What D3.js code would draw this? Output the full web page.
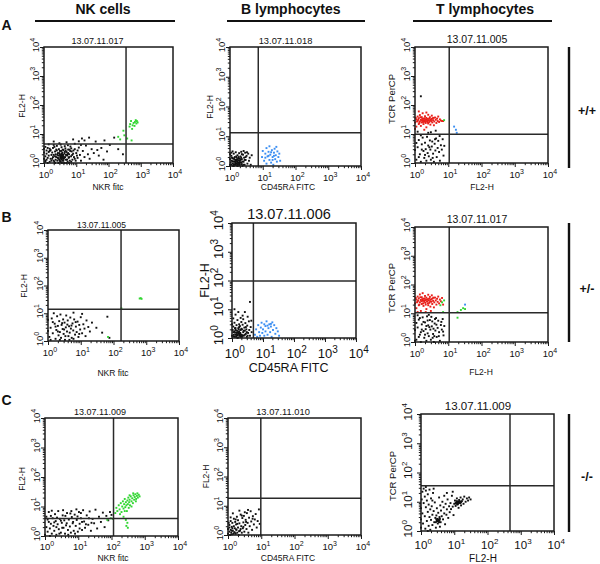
<!DOCTYPE html>
<html><head><meta charset="utf-8">
<script src="https://cdn.jsdelivr.net/npm/d3@7"></script>
<style>body{margin:0;background:#fff}svg{display:block}text{font-family:"Liberation Sans",Arial,Helvetica,sans-serif;fill:#111}</style>
</head><body><svg id="c" width="600" height="564"></svg>
<script>
// ---------------- DATA ----------------
const columnTitles = ["NK cells", "B lymphocytes", "T lymphocytes"];
const rowLetters = ["A", "B", "C"];
const genotypes = ["+/+", "+/-", "-/-"];
const sampleIds = [
  ["13.07.11.017", "13.07.11.018", "13.07.11.005"],
  ["13.07.11.005", "13.07.11.006", "13.07.11.017"],
  ["13.07.11.009", "13.07.11.010", "13.07.11.009"]
];
const xAxisLabels = ["NKR fitc", "CD45RA FITC", "FL2-H"];
const yAxisLabels = ["FL2-H", "FL2-H", "TCR PerCP"];
const decadeTicks = [1, 10, 100, 1000, 10000];
const tickExponents = ["0", "1", "2", "3", "4"];
const minorTicks = [2,3,4,5,6,7,8,9,20,30,40,50,60,70,80,90,200,300,400,500,600,700,800,900,2000,3000,4000,5000,6000,7000,8000,9000];

// quadrant gates [x, y] per panel (row, column)
const gates = [
  [[350, 4.5], [7.3, 13], [10.7, 9.8]],
  [[170, 14], [4.9, 96], [10.7, 10.5]],
  [[115, 3.9], [9.7, 18], [475, 35]]
];

// Row A (+/+)
const a1Black = [[1.1,1.2],[1.3,1.5],[1.2,2.1],[1.5,1.1],[1.6,2.8],[1.8,1.4],[1.9,3.3],[2.0,1.9],[2.1,1.1],[2.2,2.5],[2.4,1.6],[2.5,3.9],[2.6,1.2],[2.7,2.2],[2.8,1.8],[2.9,3.0],[3.0,1.3],[3.1,2.6],[3.2,1.7],[3.3,1.1],[3.4,2.0],[3.5,3.5],[3.6,1.5],[3.7,2.3],[3.8,1.2],[3.9,1.9],[4.0,2.8],[4.1,1.4],[4.2,1.0],[4.3,2.1],[4.5,1.6],[4.6,3.2],[4.8,1.3],[5.0,2.4],[5.2,1.8],[5.4,1.1],[5.6,2.9],[5.8,1.5],[6.0,2.0],[6.3,1.2],[6.6,3.7],[6.9,1.7],[7.2,2.5],[7.6,1.3],[8.0,2.1],[8.5,1.6],[9.0,3.0],[9.6,1.2],[10,2.2],[11,1.5],[12,3.4],[13,1.9],[14,1.2],[16,2.6],[18,1.6],[20,4.0],[23,2.0],[26,1.4],[30,3.0],[35,2.2],[40,5.5],[50,1.8],[60,3.3],[75,6.0],[90,2.5],[110,4.2],[150,7.5],[200,3.0],[280,2.0],[18,6.0],[12,5.6],[8,6.5],[5,5.2],[3,4.8],[2,5.5],[1.4,4.4],[1.1,3.6],[1.2,2.7],[1.7,1.9],[2.3,1.3],[2.0,4.2],[1.5,3.1],[1.3,1.0],[1.7,1.2],[2.5,2.7],[3.3,4.3],[4.4,3.8],[5.5,4.1],[7,3.2],[9,4.6],[11,2.7],[14,4.2],[15,7],[25,7.5],[70,1.3],[45,2.8],[1.1,1.7],[1.4,2.4],[2.2,1.0],[2.8,1.0],[3.6,1.0],[6,1.0],[1.0,1.4],[1.0,2.3],[1.0,3.1],[3.2,1.5],[3.5,1.8],[3.8,1.6],[3.4,1.4],[3.7,1.9],[3.1,1.9],[4.0,1.7],[3.6,2.1],[3.9,1.4],[3.3,1.7],[1.2,1.3],[1.4,1.8],[1.6,1.4],[1.8,2.3],[2.0,1.2],[2.2,1.7],[2.4,2.9],[2.6,1.9],[2.8,1.4],[3.0,2.2],[3.2,1.1],[3.4,2.6],[3.6,1.7],[3.8,2.9],[4.0,1.2],[4.4,2.4],[4.8,1.9],[5.2,1.3],[5.6,2.2],[6.0,1.6],[6.5,2.6],[7.0,1.1],[7.5,1.9],[8.2,2.7],[9.0,1.4],[1.5,2.6],[1.9,1.6],[2.3,2.0],[2.7,1.5],[3.1,1.2],[3.5,1.3],[4.2,1.5],[4.7,2.7],[5.3,2.0],[6.2,2.9],[1.1,1.1],[1.3,3.3],[2.1,3.6],[4.9,1.0],[10.5,1.8]];
const a1Green = [[200,8],[230,6.5],[290,13],[310,9],[380,7],[450,18],[470,22],[500,28],[520,6],[560,20],[600,24],[640,19],[660,26],[700,30],[730,23],[760,28],[800,25],[540,15]];
const a2Black = [[1.0,1.1],[1.1,1.5],[1.1,2.2],[1.2,1.2],[1.2,1.8],[1.3,2.6],[1.3,1.0],[1.4,1.4],[1.4,2.0],[1.5,1.1],[1.5,2.9],[1.6,1.6],[1.6,1.2],[1.7,2.3],[1.7,1.0],[1.8,1.8],[1.8,1.3],[1.9,2.7],[2.0,1.5],[2.0,1.1],[2.1,2.1],[2.2,1.3],[2.2,3.0],[2.3,1.7],[2.4,1.0],[2.5,2.4],[2.6,1.4],[2.7,1.9],[2.8,1.1],[2.9,2.8],[3.0,1.6],[3.2,2.2],[3.4,1.2],[3.6,2.6],[3.8,1.5],[4.0,1.9],[4.3,1.1],[4.6,2.3],[1.05,1.3],[1.15,1.9],[1.25,1.4],[1.35,1.7],[1.45,1.25],[1.55,2.1],[1.65,1.45],[1.75,1.15],[1.85,2.0],[1.95,1.35],[1.1,2.8],[1.2,3.1],[2.6,3.2],[3.3,2.9],[1.3,1.15],[1.5,1.5],[1.7,1.7],[1.9,1.05],[2.1,1.6],[2.3,2.5],[1.0,1.7],[1.0,2.5],[1.1,1.1],[1.2,1.45],[1.3,1.8],[1.4,1.1],[1.5,1.35],[1.6,1.9],[1.7,1.3],[1.8,1.55],[1.9,1.2],[2.0,1.75],[2.1,1.3],[2.2,1.9],[2.4,1.4],[2.6,1.1],[2.8,1.6],[3.0,2.0],[1.25,1.0],[1.45,1.6],[1.65,1.05],[2.3,1.15]];
const a2Blue = [[9.5,2.0],[10,3.2],[11,1.5],[12,2.6],[13,4.0],[13,1.2],[14,2.1],[15,3.0],[16,1.6],[16,4.6],[17,2.4],[18,1.3],[19,3.4],[20,2.0],[21,1.1],[22,2.8],[23,3.8],[24,1.7],[25,2.3],[27,1.4],[28,3.1],[30,2.0],[32,2.6],[34,1.5],[18,2.9],[20,1.6],[15,2.2],[12,1.9],[22,2.2],[26,4.4]];
const a3Red = [[1.0,25],[1.1,32],[1.1,18],[1.2,40],[1.2,28],[1.3,22],[1.3,35],[1.4,45],[1.4,27],[1.5,31],[1.5,19],[1.6,38],[1.6,25],[1.7,29],[1.7,52],[1.8,34],[1.8,22],[1.9,27],[2.0,41],[2.0,30],[2.1,24],[2.2,36],[2.2,17],[2.3,28],[2.4,33],[2.5,46],[2.5,23],[2.6,30],[2.7,26],[2.8,38],[2.9,21],[3.0,32],[3.1,28],[3.2,43],[3.3,25],[3.4,35],[3.5,30],[3.7,20],[3.8,27],[4.0,37],[4.2,31],[4.4,24],[4.6,34],[4.8,28],[5.0,40],[5.3,26],[5.6,32],[6.0,29],[1.05,36],[1.15,27],[1.25,31],[1.35,24],[1.45,38],[1.55,29],[1.65,33],[1.75,26],[1.85,30],[1.95,35],[2.05,26],[2.15,32],[2.35,29],[2.45,25],[2.65,34],[2.85,29],[3.15,33],[3.6,36],[1.3,60],[2.2,55],[1.0,15],[1.9,14],[6.5,28],[7.0,28]];
const a3Black = [[1.1,1.3],[1.2,3.5],[1.3,6.2],[1.4,2.0],[1.5,1.1],[1.6,4.4],[1.7,7.5],[1.8,2.6],[1.9,1.5],[2.0,5.0],[2.1,3.0],[2.2,1.2],[2.3,8.0],[2.4,2.2],[2.5,4.0],[2.6,1.7],[2.8,6.0],[2.9,2.9],[3.0,1.3],[3.2,3.7],[3.3,5.5],[3.5,2.1],[3.7,1.1],[3.9,4.6],[4.1,2.7],[4.3,7.0],[4.5,1.6],[4.8,3.3],[5.0,5.8],[5.3,2.4],[5.6,1.2],[6.0,4.1],[6.4,2.9],[6.8,6.6],[7.2,1.8],[7.6,3.9],[1.1,4.9],[1.0,2.8],[1.3,1.6],[1.6,2.9],[2.0,1.9],[2.7,3.5],[3.4,1.5],[4.0,6.6],[1.2,12],[2.5,11],[4.2,13],[3.0,11.5],[1.5,9],[5.5,8.5],[1.5,200]];
const a3Green = [[7.5,30]];
const a3Blue = [[15,18],[17,14],[18,11]];

// Row B (+/-)
const b1Black = [[1.1,1.4],[1.2,3.0],[1.3,6.5],[1.4,1.9],[1.5,10],[1.6,4.2],[1.7,1.2],[1.8,2.5],[1.9,7.8],[2.0,3.5],[2.1,1.6],[2.2,5.2],[2.3,2.1],[2.4,9.0],[2.5,1.3],[2.6,3.8],[2.8,2.7],[2.9,6.0],[3.0,1.8],[3.2,4.6],[3.3,1.1],[3.5,3.1],[3.6,8.3],[3.8,2.2],[4.0,5.5],[4.2,1.5],[4.4,3.4],[4.6,2.0],[4.8,7.0],[5.0,2.8],[5.3,1.3],[5.6,4.3],[5.9,2.4],[6.3,6.0],[6.7,1.7],[7.1,3.3],[7.5,2.1],[8.0,5.0],[8.5,1.4],[9.0,3.8],[9.6,2.6],[10,7.2],[11,1.9],[12,4.0],[13,2.8],[14,1.5],[15,5.5],[17,3.2],[19,2.2],[22,4.6],[1.2,1.1],[1.4,4.8],[1.7,3.3],[2.0,2.2],[2.3,1.1],[2.7,4.4],[3.1,2.6],[3.4,1.5],[3.9,3.9],[4.5,1.1],[5.2,3.6],[6.0,1.2],[7.0,4.8],[9.0,1.8],[1.0,2.3],[1.0,5.8],[11,9.5],[6,10.5],[75,1.3],[65,7.5],[30,3.0],[45,2.0]];
const b1Green = [[630,34],[680,35],[720,33],[174,15],[68,1.4]];
const b2Black = [[1.0,1.2],[1.1,1.6],[1.1,2.5],[1.2,1.1],[1.2,3.4],[1.3,1.9],[1.3,1.3],[1.4,2.8],[1.4,1.5],[1.5,4.2],[1.5,1.0],[1.6,2.2],[1.6,1.4],[1.7,3.0],[1.7,1.7],[1.8,1.2],[1.8,2.6],[1.9,1.9],[1.9,5.0],[2.0,1.3],[2.0,3.6],[2.1,2.0],[2.1,1.1],[2.2,2.9],[2.3,1.6],[2.3,4.5],[2.4,1.2],[2.5,2.3],[2.6,1.8],[2.7,3.3],[2.8,1.4],[2.9,2.0],[3.0,1.1],[3.1,2.7],[3.3,1.5],[3.5,3.8],[3.6,1.9],[3.8,1.2],[4.0,2.4],[4.3,1.6],[1.05,1.9],[1.15,1.3],[1.25,2.2],[1.35,1.1],[1.45,1.8],[1.55,1.25],[1.65,2.0],[1.75,1.35],[1.85,1.5],[1.95,1.15],[1.1,4.8],[1.3,6.5],[1.6,8],[2.2,6.0],[2.6,8],[3.8,18],[1.2,10],[3.2,5.5],[4.2,4.0],[1.0,3.0],[1.1,1.15],[1.2,1.7],[1.3,2.2],[1.4,1.2],[1.5,1.6],[1.6,1.05],[1.7,2.4],[1.8,1.45],[1.9,1.3],[2.0,2.1],[2.2,1.25],[2.4,1.8],[2.6,1.3],[2.8,2.4],[3.0,1.6],[3.2,1.2],[1.25,1.55],[1.45,1.35],[1.65,1.6],[1.85,1.1]];
const b2Blue = [[5.5,1.3],[6.0,2.0],[6.5,1.1],[7.0,2.8],[7.5,1.6],[8.0,1.2],[8.5,2.3],[9.0,3.4],[9.5,1.5],[10,2.0],[11,1.2],[12,2.6],[12,1.7],[13,3.8],[14,1.3],[15,2.2],[16,3.0],[17,1.6],[18,2.5],[19,1.1],[20,3.5],[21,1.9],[23,2.8],[25,1.4],[27,2.2],[30,1.7],[33,1.2],[14,2.7],[18,3.1],[11,3.0]];
const b3Red = [[1.0,22],[1.1,30],[1.1,15],[1.2,38],[1.2,26],[1.3,19],[1.3,33],[1.4,45],[1.4,24],[1.5,29],[1.5,12],[1.6,36],[1.6,21],[1.7,27],[1.7,50],[1.8,32],[1.8,18],[1.9,25],[2.0,40],[2.0,28],[2.1,20],[2.2,35],[2.2,14],[2.3,26],[2.4,31],[2.5,44],[2.5,19],[2.6,28],[2.7,23],[2.8,37],[2.9,17],[3.0,30],[3.1,25],[3.2,42],[3.3,21],[3.4,33],[3.5,27],[3.7,16],[3.8,24],[4.0,35],[4.2,28],[4.4,20],[4.6,32],[4.8,25],[5.0,38],[5.3,22],[5.6,30],[6.0,26],[6.5,34],[7.0,20],[1.05,34],[1.15,24],[1.25,28],[1.35,20],[1.45,36],[1.55,26],[1.65,31],[1.75,22],[1.85,28],[1.95,33],[2.05,23],[2.15,30],[2.35,26],[2.45,22],[2.65,32],[2.85,26],[3.15,31],[3.6,35],[1.2,11],[2.1,11],[3.0,12]];
const b3Black = [[1.1,1.2],[1.2,3.2],[1.3,6.0],[1.4,1.8],[1.5,1.0],[1.6,4.1],[1.7,7.2],[1.8,2.4],[1.9,1.4],[2.0,4.8],[2.1,2.8],[2.2,1.1],[2.3,7.8],[2.4,2.0],[2.5,3.8],[2.6,1.6],[2.8,5.8],[2.9,2.7],[3.0,1.2],[3.2,3.5],[3.3,5.2],[3.5,1.9],[3.7,1.0],[3.9,4.4],[4.1,2.5],[4.3,6.8],[4.5,1.5],[4.8,3.1],[5.0,5.5],[5.3,2.2],[5.6,1.1],[6.0,3.9],[6.4,2.7],[6.8,6.3],[7.2,1.7],[7.6,3.6],[1.1,4.6],[1.0,2.6],[1.3,1.5],[1.6,2.7],[2.0,1.8],[2.7,3.3],[3.4,1.4],[4.0,6.3],[1.2,8.5],[2.6,8.8],[1.5,2.2],[1.8,5.0],[2.2,3.6],[3.6,2.9],[4.4,4.0],[5.2,1.6],[6.2,5.0],[7.0,2.3],[1.0,1.1],[1.4,6.8],[2.4,5.6],[3.1,7.5],[3.8,1.6]];
const b3Green = [[5.8,19],[6.5,24],[7.5,28],[7.0,11],[19,11],[24,13],[28,15],[32,14],[19,7]];
const b3Blue = [[32,20]];

// Row C (-/-)
const c1Black = [[1.0,1.1],[1.1,2.0],[1.1,4.5],[1.2,1.4],[1.3,3.0],[1.3,6.5],[1.4,1.8],[1.5,2.6],[1.6,1.2],[1.7,4.0],[1.8,2.2],[1.9,1.5],[2.0,5.5],[2.1,3.2],[2.2,1.1],[2.4,2.5],[2.5,7.0],[2.6,1.7],[2.8,3.8],[3.0,1.3],[3.2,2.8],[3.4,5.0],[3.6,1.9],[3.8,3.4],[4.0,1.2],[4.3,2.3],[4.6,6.0],[4.9,1.6],[5.2,3.6],[5.6,2.1],[6.0,1.3],[6.4,4.4],[6.8,2.7],[7.3,1.5],[7.8,5.3],[8.4,2.2],[9.0,3.5],[9.7,1.4],[10.5,6.5],[11,2.6],[12,4.0],[13,1.6],[14,7.5],[15,3.1],[16,1.9],[18,5.0],[20,2.4],[22,6.8],[24,1.5],[27,3.8],[30,2.7],[33,7.8],[37,1.8],[42,4.5],[48,3.0],[55,6.2],[62,2.0],[70,4.8],[80,3.4],[90,6.5],[100,5.2],[1.2,3.6],[1.5,4.8],[1.9,2.9],[2.3,4.2],[2.7,1.2],[3.3,1.9],[4.1,4.8],[5.0,1.1],[5.8,5.8],[7.0,3.0],[8.0,1.2],[9.5,4.6],[11,1.8],[13,3.0],[17,2.5],[21,4.0],[25,2.8],[3.5,7.5],[6.2,7.0],[1.6,7.2],[2.2,2.0],[3.0,3.3],[4.5,2.7],[1.4,1.0],[8.8,8.0],[12,6.0]];
const c1Green = [[75,3.5],[95,4.0],[110,3.8],[130,6],[140,9],[150,7],[165,11],[175,8],[190,13],[200,6.5],[210,10],[220,15],[230,8.5],[240,12],[250,18],[260,9.5],[270,14],[280,11],[290,7],[300,16],[310,12],[320,20],[330,9],[340,14],[350,17],[360,11],[380,22],[400,15],[420,19],[440,13],[460,24],[480,17],[500,21],[520,26],[550,18],[580,23],[620,20],[660,25],[700,22],[280,2.2],[300,2.8],[310,1.9],[270,3.5],[230,4.5],[180,5.5],[400,10],[450,28],[350,24],[540,15],[600,28],[250,7]];
const c2Black = [[1.0,1.1],[1.0,1.6],[1.1,1.3],[1.1,2.2],[1.15,1.0],[1.2,1.5],[1.2,3.0],[1.25,1.2],[1.3,1.9],[1.3,1.05],[1.35,2.6],[1.4,1.4],[1.45,1.1],[1.5,2.0],[1.5,3.6],[1.55,1.25],[1.6,1.7],[1.65,2.8],[1.7,1.1],[1.75,2.3],[1.8,1.5],[1.85,4.2],[1.9,1.2],[2.0,1.8],[2.0,3.2],[2.1,1.0],[2.2,2.5],[2.3,1.4],[2.4,5.0],[2.5,2.0],[2.6,1.2],[2.7,3.8],[2.8,1.7],[2.9,2.7],[3.0,4.5],[3.1,1.3],[3.3,2.2],[3.4,3.3],[3.6,1.6],[3.7,5.6],[3.9,2.6],[4.1,1.2],[4.3,3.9],[4.5,2.0],[4.8,6.5],[5.0,2.9],[5.3,1.5],[5.6,4.4],[6.0,2.3],[6.4,3.4],[6.8,5.2],[7.3,1.8],[7.8,3.0],[8.5,7.5],[9.0,2.4],[1.05,2.6],[1.2,4.0],[1.4,5.5],[1.7,3.4],[2.2,6.8],[2.6,4.6],[3.2,6.0],[4.0,7.2],[5.5,3.6],[1.1,1.8],[1.3,1.4],[1.6,1.2],[1.9,2.4],[2.4,1.6],[3.5,2.8],[1.35,1.7],[1.75,1.55],[2.15,1.35],[2.9,1.9]];
const c3Black = [[1.0,1.3],[1.0,2.5],[1.0,6],[1.05,12],[1.1,22],[1.1,4],[1.15,1.8],[1.2,28],[1.2,9],[1.3,3.2],[1.3,15],[1.35,1.2],[1.4,6.5],[1.4,24],[1.5,2.2],[1.5,11],[1.6,4.5],[1.6,18],[1.7,1.5],[1.7,8],[1.8,3.0],[1.8,26],[1.9,5.5],[1.9,1.1],[2.0,2.4],[2.0,13],[2.1,7],[2.2,3.6],[2.2,1.6],[2.3,20],[2.4,4.8],[2.5,2.0],[2.6,9.5],[2.7,2.8],[2.8,1.3],[2.9,3.4],[3.0,2.2],[3.0,6.0],[3.1,2.6],[3.2,1.8],[3.3,4.2],[3.4,2.4],[3.5,14],[3.6,3.0],[3.7,1.4],[3.8,7.5],[3.9,2.0],[4.0,5.0],[4.2,3.2],[4.4,10],[4.6,2.5],[4.8,6.5],[5.0,4.0],[5.3,1.7],[5.5,8.5],[5.8,3.6],[6.0,5.5],[6.3,12],[6.6,2.8],[7.0,7.0],[7.3,4.4],[7.7,9],[8.0,5.6],[8.5,16],[9.0,6.8],[9.5,3.5],[10,8.5],[10.5,11],[11,7.2],[11.5,9.5],[12,13],[12.5,8],[13,10],[13.5,6.2],[14,11.5],[15,9],[15.5,14],[16,7.5],[17,10.5],[18,12],[19,8.5],[20,15],[22,10],[24,13],[26,11],[28,14],[31,12],[3.2,2.2],[3.4,2.1],[3.0,2.4],[3.6,2.3],[2.8,2.0],[12,9],[13,8.5],[14,9.5],[11,9],[15,10],[2.4,28],[1.4,32],[1.6,1.0],[2.2,11],[6,20],[9,22],[5,16],[3.1,2.3],[3.3,2.5],[3.5,2.0],[2.9,2.5],[3.7,2.6],[12.5,9.5],[13.5,9],[14.5,10.5],[11.5,8.5],[16,9.5],[12,10.5]];

// ---------------- DRAWING ----------------
const COLORS = {black: "#111", green: "#33d633", red: "#e8201a", blue: "#3b8ef2"};
const series = [
  [[[a1Black,"black"],[a1Green,"green"]], [[a2Black,"black"],[a2Blue,"blue"]], [[a3Black,"black"],[a3Red,"red"],[a3Green,"green"],[a3Blue,"blue"]]],
  [[[b1Black,"black"],[b1Green,"green"]], [[b2Black,"black"],[b2Blue,"blue"]], [[b3Black,"black"],[b3Red,"red"],[b3Green,"green"],[b3Blue,"blue"]]],
  [[[c1Black,"black"],[c1Green,"green"]], [[c2Black,"black"]], [[c3Black,"black"]]]
];

// layout (pixel boxes [left, top, right, bottom]) and text styles per panel
const layout = [
  [
    {box:[44,47,173,163], title:[97.5,43.5,9], xl:[108,190,8.5], yl:[25,106,8.5], tk:[9.5,7,15,5]},
    {box:[230,47,361,166], title:[285.5,43.5,9.3], xl:[288,190,8.5], yl:[213,107,8.5], tk:[9.5,7,15,5]},
    {box:[415,47,548,163], title:[477,42.5,10.5], xl:[482,190,8.5], yl:[395,99,9.5], tk:[9.5,7,15,5]}
  ],
  [
    {box:[48,230,179,341], title:[101.5,227.5,8.5], xl:[113,376,8.5], yl:[26.7,286,8.5], tk:[9.5,7,15,5]},
    {box:[232,223,356,338], title:[289,218.5,14.5], xl:[288.6,371.5,12.5], yl:[209,280.5,12.5], tk:[13,10,20,9]},
    {box:[415,227,548,342], title:[477,222.5,10.5], xl:[481,375,8.5], yl:[395,288,9.5], tk:[9.5,7,15,5]}
  ],
  [
    {box:[45,418,178,536], title:[100,415,9], xl:[113,561,8.5], yl:[25,479,8.5], tk:[9.5,7,14,5]},
    {box:[228,418,361,535], title:[283,415,9.3], xl:[288,561,8.5], yl:[208.5,476.5,8.5], tk:[9.5,7,15,5]},
    {box:[421,414,554,531], title:[478,410,11.5], xl:[483,561.5,10], yl:[396,476,9.5], tk:[11.5,8,18,9]}
  ]
];

const svg = d3.select("#c");

// column headers and lines
const headerPos = [[103, 35, 175], [290.8, 227, 365], [485, 413, 552]];
columnTitles.forEach((t, i) => {
  svg.append("text").attr("x", headerPos[i][0]).attr("y", 13.5).attr("text-anchor", "middle")
    .attr("font-size", 14).attr("font-weight", "bold").text(t);
  svg.append("line").attr("x1", headerPos[i][1]).attr("x2", headerPos[i][2]).attr("y1", 21).attr("y2", 21)
    .attr("stroke", "#111").attr("stroke-width", 2);
});

// row letters
const letterY = [30, 221.5, 405];
rowLetters.forEach((l, i) => {
  svg.append("text").attr("x", 1.5).attr("y", letterY[i]).attr("font-size", 14).attr("font-weight", "bold").text(l);
});

// genotype bars and labels
const barPos = [[47, 168, 115], [223, 342, 293], [414, 532, 481]];
genotypes.forEach((g, i) => {
  svg.append("line").attr("x1", 569).attr("x2", 569).attr("y1", barPos[i][0]).attr("y2", barPos[i][1])
    .attr("stroke", "#111").attr("stroke-width", 2.4);
  svg.append("text").attr("x", 587).attr("y", barPos[i][2]).attr("text-anchor", "middle")
    .attr("font-size", 12.5).attr("font-weight", "bold").text(g);
});

function pow10Label(sel, size, supSize, exp) {
  sel.append("tspan").text("10");
  sel.append("tspan").attr("font-size", supSize).attr("dy", -size * 0.42).text(exp);
}

for (let r = 0; r < 3; r++) {
  for (let c = 0; c < 3; c++) {
    const L = layout[r][c];
    const [x0, y0, x1, y1] = L.box;
    const x = d3.scaleLog().domain([1, 10000]).range([x0, x1]);
    const y = d3.scaleLog().domain([1, 10000]).range([y1, y0]);
    const g = svg.append("g");

    // points
    series[r][c].forEach(([pts, col]) => {
      g.append("g").selectAll("rect").data(pts).join("rect")
        .attr("x", d => x(d[0]) - 0.95).attr("y", d => y(d[1]) - 0.95)
        .attr("width", 1.9).attr("height", 1.9).attr("fill", COLORS[col]);
    });

    // quadrant gates
    const [gx, gy] = gates[r][c];
    g.append("line").attr("x1", x(gx)).attr("x2", x(gx)).attr("y1", y0).attr("y2", y1)
      .attr("stroke", "#2a2a2a").attr("stroke-width", 1.5);
    g.append("line").attr("x1", x0).attr("x2", x1).attr("y1", y(gy)).attr("y2", y(gy))
      .attr("stroke", "#2a2a2a").attr("stroke-width", 1.5);

    // frame
    g.append("rect").attr("x", x0).attr("y", y0).attr("width", x1 - x0).attr("height", y1 - y0)
      .attr("fill", "none").attr("stroke", "#1a1a1a").attr("stroke-width", 1.5);

    // axes ticks (major and minor), outside the box
    const [tsz, ssz, xdy, ydx] = L.tk;
    const axB = g.append("g").attr("transform", `translate(0,${y1})`)
      .call(d3.axisBottom(x).tickValues(decadeTicks).tickSize(4).tickFormat(() => ""));
    const axBm = g.append("g").attr("transform", `translate(0,${y1})`)
      .call(d3.axisBottom(x).tickValues(minorTicks).tickSize(2.2).tickFormat(() => ""));
    const axL = g.append("g").attr("transform", `translate(${x0},0)`)
      .call(d3.axisLeft(y).tickValues(decadeTicks).tickSize(4).tickFormat(() => ""));
    const axLm = g.append("g").attr("transform", `translate(${x0},0)`)
      .call(d3.axisLeft(y).tickValues(minorTicks).tickSize(2.2).tickFormat(() => ""));
    [axB, axBm, axL, axLm].forEach(a => {
      a.select(".domain").remove();
      a.selectAll("line").attr("stroke", "#1a1a1a").attr("stroke-width", 1);
    });

    // tick labels with superscripts
    decadeTicks.forEach((v, i) => {
      const tx = g.append("text").attr("x", x(v) - tsz * 0.556).attr("y", y1 + xdy).attr("font-size", tsz);
      pow10Label(tx, tsz, ssz, tickExponents[i]);
      const ty = g.append("text").attr("transform", `translate(${x0 - ydx},${y(v) + tsz * 0.556}) rotate(-90)`)
        .attr("font-size", tsz);
      pow10Label(ty, tsz, ssz, tickExponents[i]);
    });

    // title
    g.append("text").attr("x", L.title[0]).attr("y", L.title[1]).attr("text-anchor", "middle")
      .attr("font-size", L.title[2]).text(sampleIds[r][c]);
    // axis labels
    g.append("text").attr("x", L.xl[0]).attr("y", L.xl[1]).attr("text-anchor", "middle")
      .attr("font-size", L.xl[2]).text(xAxisLabels[c]);
    g.append("text").attr("transform", `translate(${L.yl[0]},${L.yl[1]}) rotate(-90)`).attr("text-anchor", "middle")
      .attr("font-size", L.yl[2]).text(yAxisLabels[c]);
  }
}
</script>
</body></html>
